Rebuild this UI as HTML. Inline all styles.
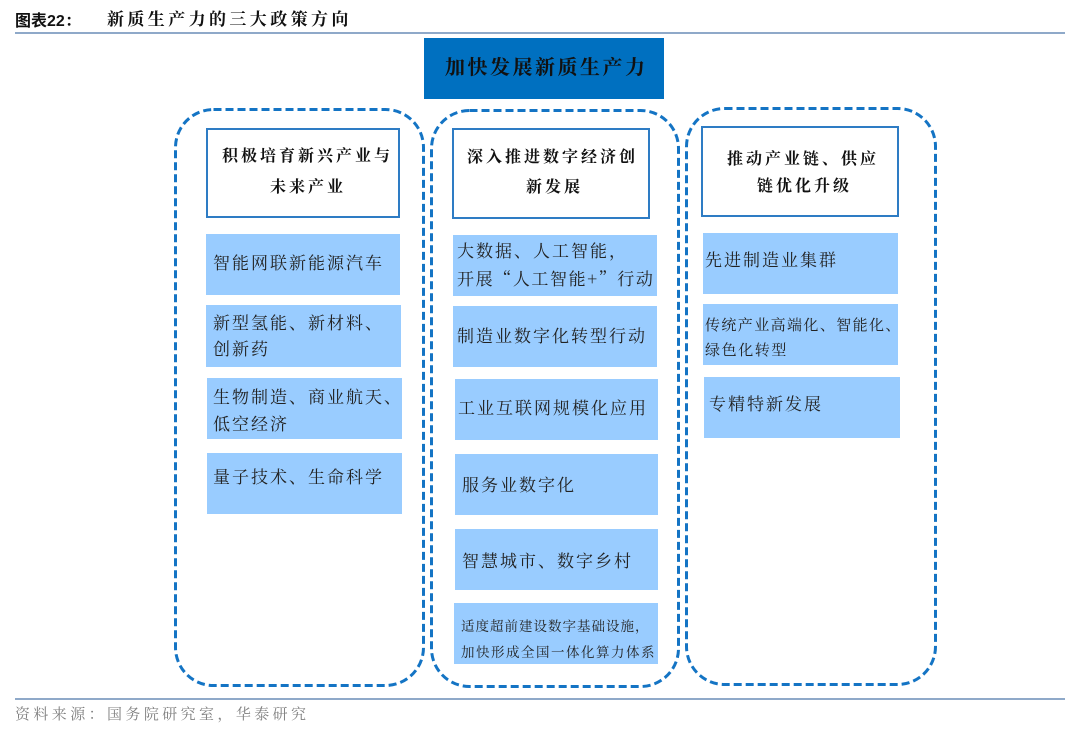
<!DOCTYPE html>
<html><head><meta charset="utf-8">
<style>
html,body{margin:0;padding:0;background:#fff;}
#c{position:relative;width:1080px;height:734px;overflow:hidden;background:#fff;}
.t{position:absolute;white-space:nowrap;line-height:20px;height:20px;font-family:"Liberation Serif","Noto Serif CJK SC",serif;color:#1a1a1a;}
.p{font-family:"Noto Serif CJK SC",serif;}
.hd{font-weight:bold;font-size:16px;letter-spacing:3px;color:#111;}
.it{font-size:17px;letter-spacing:2px;color:#222;}
.box{position:absolute;background:#99CCFF;}
.hb{position:absolute;border:2px solid #2E7CC4;background:#fff;box-sizing:border-box;}
.line{position:absolute;left:15px;width:1050px;height:2px;background:#8FA9C9;}
</style></head><body>
<div id="c">
<!-- title -->
<div class="t" style="left:15px;top:10px;font-family:'Liberation Sans','Noto Sans CJK SC',sans-serif;font-weight:bold;font-size:16px;color:#111;">图表22<span class="p">：</span></div>
<div class="t" style="left:107px;top:10px;font-weight:bold;font-size:17px;letter-spacing:3.4px;color:#111;">新质生产力的三大政策方向</div>
<div class="line" style="top:32px;"></div>

<!-- top blue box -->
<div style="position:absolute;left:424px;top:38px;width:240px;height:61px;background:#0070C0;"></div>
<div class="t" style="left:445px;top:57px;height:22px;line-height:22px;font-weight:bold;font-size:20px;letter-spacing:2.5px;color:#111;">加快发展新质生产力</div>

<!-- dashed containers -->
<svg width="1080" height="734" style="position:absolute;left:0;top:0;" xmlns="http://www.w3.org/2000/svg">
<g fill="none" stroke="#1474C4" stroke-width="3" stroke-dasharray="8 4">
<rect x="175.5" y="109.5" width="248" height="576" rx="38" ry="38"/>
<rect x="431.5" y="110.5" width="247" height="576" rx="38" ry="38"/>
<rect x="686.5" y="108.5" width="249" height="576" rx="38" ry="38"/>
</g>
</svg>

<!-- header boxes -->
<div class="hb" style="left:206px;top:128px;width:194px;height:90px;"></div>
<div class="t hd" style="left:222px;top:147px;">积极培育新兴产业与</div>
<div class="t hd" style="left:270px;top:178px;">未来产业</div>

<div class="hb" style="left:452px;top:128px;width:198px;height:91px;"></div>
<div class="t hd" style="left:467px;top:148px;">深入推进数字经济创</div>
<div class="t hd" style="left:526px;top:178px;">新发展</div>

<div class="hb" style="left:701px;top:126px;width:198px;height:91px;"></div>
<div class="t hd" style="left:727px;top:148px;">推动产业链<span class="p">、</span>供应</div>
<div class="t hd" style="left:757px;top:177px;">链优化升级</div>

<!-- left items -->
<div class="box" style="left:206px;top:234px;width:194px;height:61px;"></div>
<div class="t it" style="left:213px;top:254px;">智能网联新能源汽车</div>
<div class="box" style="left:206px;top:305px;width:195px;height:62px;"></div>
<div class="t it" style="left:213px;top:312px;">新型氢能<span class="p">、</span>新材料<span class="p">、</span></div>
<div class="t it" style="left:213px;top:340px;">创新药</div>
<div class="box" style="left:207px;top:378px;width:195px;height:61px;"></div>
<div class="t it" style="left:213px;top:386px;">生物制造<span class="p">、</span>商业航天<span class="p">、</span></div>
<div class="t it" style="left:213px;top:415px;">低空经济</div>
<div class="box" style="left:207px;top:453px;width:195px;height:61px;"></div>
<div class="t it" style="left:213px;top:466px;">量子技术<span class="p">、</span>生命科学</div>

<!-- middle items -->
<div class="box" style="left:453px;top:235px;width:204px;height:61px;"></div>
<div class="t it" style="left:457px;top:240px;">大数据<span class="p">、</span>人工智能<span class="p">，</span></div>
<div class="t it" style="left:457px;top:268px;letter-spacing:1.6px;">开展<span class="p">“</span>人工智能<span class="p">+”</span>行动</div>
<div class="box" style="left:453px;top:306px;width:204px;height:61px;"></div>
<div class="t it" style="left:457px;top:327px;">制造业数字化转型行动</div>
<div class="box" style="left:455px;top:379px;width:203px;height:61px;"></div>
<div class="t it" style="left:458px;top:399px;">工业互联网规模化应用</div>
<div class="box" style="left:455px;top:454px;width:203px;height:61px;"></div>
<div class="t it" style="left:462px;top:476px;">服务业数字化</div>
<div class="box" style="left:455px;top:529px;width:203px;height:61px;"></div>
<div class="t it" style="left:462px;top:550px;">智慧城市<span class="p">、</span>数字乡村</div>
<div class="box" style="left:454px;top:603px;width:204px;height:61px;"></div>
<div class="t" style="left:461px;top:615px;font-size:13.5px;letter-spacing:1px;color:#222;">适度超前建设数字基础设施<span class="p">，</span></div>
<div class="t" style="left:461px;top:643px;font-size:13.5px;letter-spacing:1.5px;color:#222;">加快形成全国一体化算力体系</div>

<!-- right items -->
<div class="box" style="left:703px;top:233px;width:195px;height:61px;"></div>
<div class="t it" style="left:705px;top:251px;">先进制造业集群</div>
<div class="box" style="left:703px;top:304px;width:195px;height:61px;"></div>
<div class="t" style="left:705px;top:315px;font-size:15px;letter-spacing:1.4px;color:#222;">传统产业高端化<span class="p">、</span>智能化<span class="p">、</span></div>
<div class="t" style="left:705px;top:341px;font-size:15px;letter-spacing:1.6px;color:#222;">绿色化转型</div>
<div class="box" style="left:704px;top:377px;width:196px;height:61px;"></div>
<div class="t it" style="left:709px;top:395px;">专精特新发展</div>

<!-- bottom -->
<div class="line" style="top:698px;"></div>
<div class="t" style="left:15px;top:704px;font-size:15px;letter-spacing:3.4px;color:#808080;">资料来源<span class="p">：</span>国务院研究室<span class="p">，</span>华泰研究</div>
</div>
</body></html>
